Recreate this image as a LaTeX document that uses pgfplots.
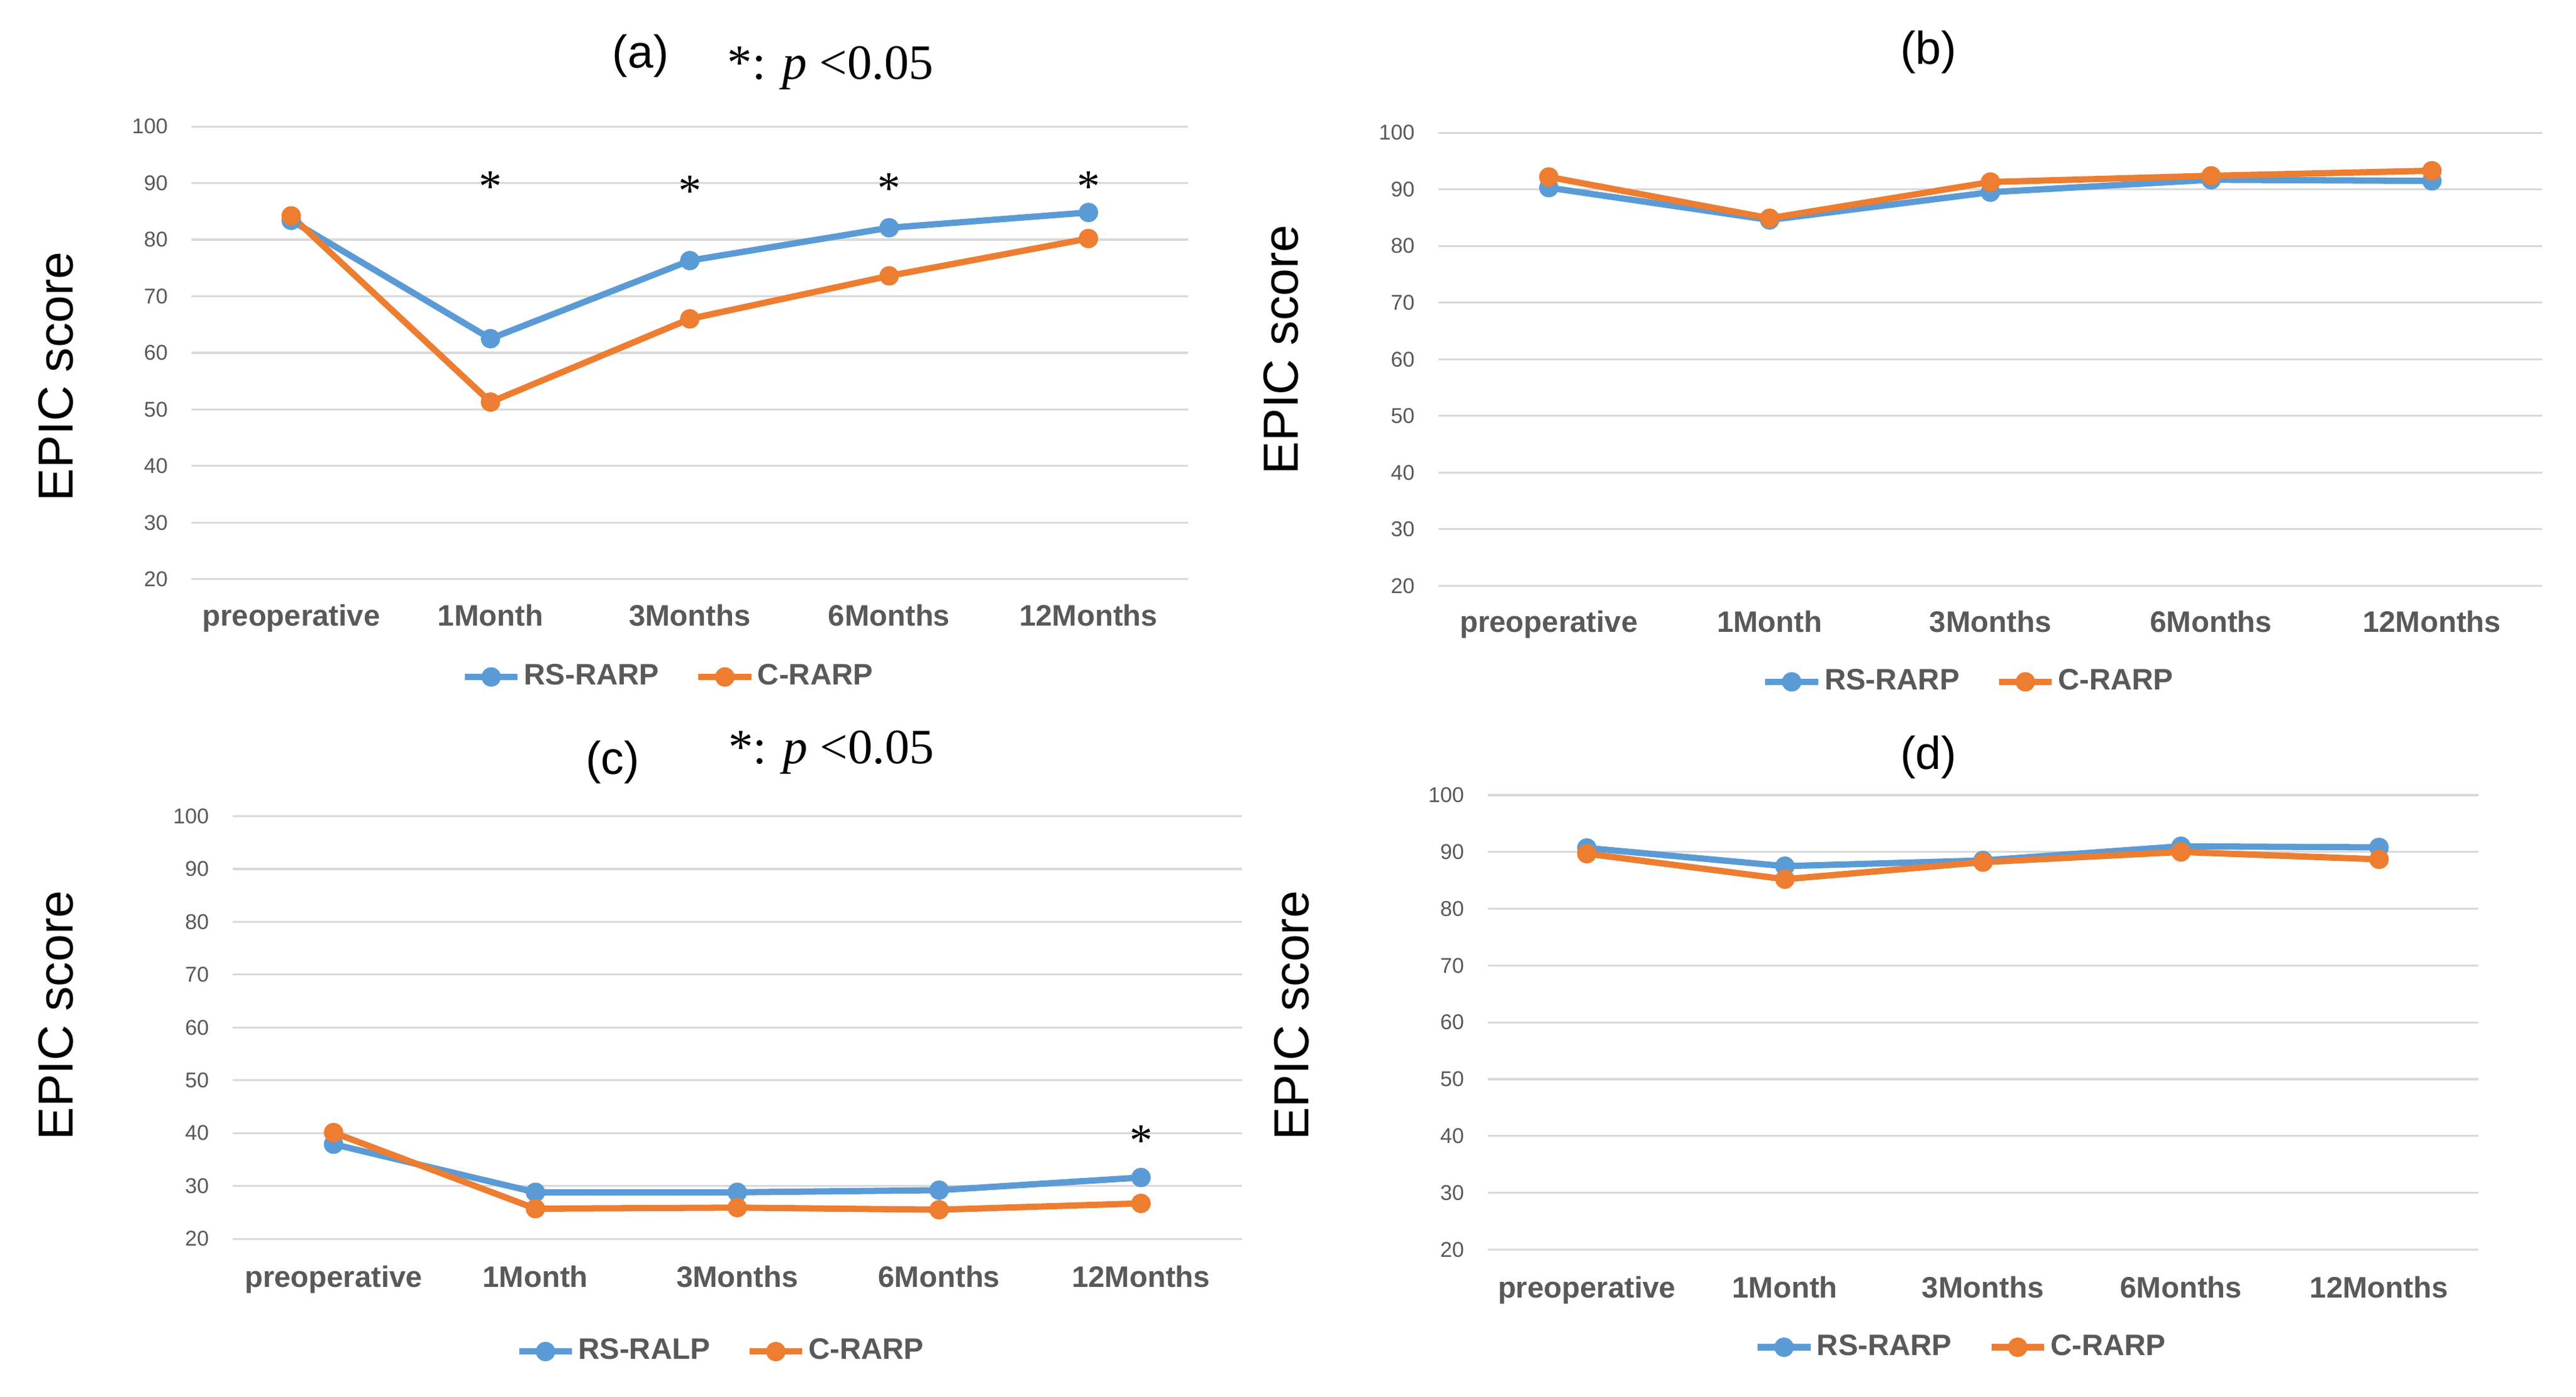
\documentclass[border=0pt]{standalone}
\usepackage{pgfplots}
\pgfplotsset{compat=1.18}
\usepackage{fontspec}
\setmainfont{Liberation Sans}
\newfontfamily\timesf{Liberation Serif}

\definecolor{blueS}{RGB}{91,155,213}
\definecolor{orangeS}{RGB}{237,125,49}
\definecolor{txtgray}{RGB}{89,89,89}
\definecolor{gridgray}{RGB}{217,217,217}

\pgfplotsset{
  epic/.style={
    scale only axis, clip=false,
    xmin=-0.5, xmax=4.5, ymin=20, ymax=100,
    xtick={0,...,4},
    xticklabels={preoperative,1Month,3Months,6Months,12Months},
    ytick={20,30,...,100},
    ymajorgrids, grid style={draw=gridgray, line width=0.6bp},
    axis line style={draw=none}, tick style={draw=none},
    /pgf/number format/assume math mode=true,
    xticklabel style={font=\fontsize{9}{10}\selectfont\bfseries, text=txtgray, anchor=base},
    yticklabel style={font=\fontsize{6.5}{8}\selectfont, text=txtgray, anchor=east, inner sep=0pt, xshift=-7bp},
    ylabel={EPIC score},
    ylabel style={font=\fontsize{15}{18}\selectfont, anchor=center},
    legend columns=2,
    legend style={draw=none, fill=none, anchor=center,
      font=\fontsize{9}{10}\selectfont\bfseries,
      nodes={inner sep=1bp},
      /tikz/every even column/.append style={column sep=10bp}},
    legend image code/.code={\draw[mark repeat=2,mark phase=2,#1]
      plot coordinates {(0bp,0bp) (8bp,0bp) (16bp,0bp)};},
  },
  rs/.style={color=blueS, line width=1.9bp, line join=round, mark=*, mark size=2bp, mark options={solid}},
  cr/.style={color=orangeS, line width=1.9bp, line join=round, mark=*, mark size=2bp, mark options={solid}},
}
\tikzset{
  sigstar/.style={font=\timesf\fontsize{14}{14}\selectfont, anchor=center},
  ttl/.style={font=\fontsize{14}{16}\selectfont, anchor=base},
  pval/.style={font=\timesf\fontsize{15}{17}\selectfont, anchor=base},
}

\begin{document}
\begin{tikzpicture}
\useasboundingbox (0,0) rectangle (780bp,423bp);

% (a)
\begin{axis}[epic, at={(58bp,247.6bp)}, anchor=south west,
    width=301.75bp, height=137.1bp,
    xticklabel style={yshift=-14.1bp},
    ylabel style={at={(axis description cs:-0.136,0.448)}},
    legend style={at={(axis description cs:0.479,-0.216)}}]
\addplot[rs] coordinates {(0,83.4) (1,62.5) (2,76.3) (3,82.1) (4,84.8)};
\addlegendentry{\textcolor{txtgray}{RS-RARP}}
\addplot[cr] coordinates {(0,84.2) (1,51.3) (2,66.0) (3,73.6) (4,80.2)};
\addlegendentry{\textcolor{txtgray}{C-RARP}}
\node[sigstar] at (axis cs:1,89.4) {*};
\node[sigstar] at (axis cs:2,88.6) {*};
\node[sigstar] at (axis cs:3,89.0) {*};
\node[sigstar] at (axis cs:4,89.4) {*};
\node[ttl] at (axis description cs:0.4507,1.1298) {(a)};
\node[pval] at (axis description cs:0.6413,1.105) {*: \textit{p} <0.05};
\end{axis}

% (b)
\begin{axis}[epic, at={(435.55bp,245.6bp)}, anchor=south west,
    width=334.25bp, height=137.2bp,
    xticklabel style={yshift=-14.1bp},
    ylabel style={at={(axis description cs:-0.1427,0.5215)}},
    legend style={at={(axis description cs:0.481,-0.212)}}]
\addplot[rs] coordinates {(0,90.3) (1,84.6) (2,89.5) (3,91.7) (4,91.5)};
\addlegendentry{\textcolor{txtgray}{RS-RARP}}
\addplot[cr] coordinates {(0,92.2) (1,84.9) (2,91.3) (3,92.4) (4,93.3)};
\addlegendentry{\textcolor{txtgray}{C-RARP}}
\node[ttl] at (axis description cs:0.4441,1.152) {(b)};
\end{axis}

% (c)
\begin{axis}[epic, at={(70.45bp,47.85bp)}, anchor=south west,
    width=305.6bp, height=128bp,
    xticklabel style={yshift=-14.7bp},
    ylabel style={at={(axis description cs:-0.1749,0.5285)}},
    legend style={at={(axis description cs:0.4844,-0.2668)}}]
\addplot[rs] coordinates {(0,37.9) (1,28.8) (2,28.8) (3,29.2) (4,31.6)};
\addlegendentry{\textcolor{txtgray}{RS-RALP}}
\addplot[cr] coordinates {(0,40.1) (1,25.7) (2,25.9) (3,25.5) (4,26.7)};
\addlegendentry{\textcolor{txtgray}{C-RARP}}
\node[sigstar] at (axis cs:4,38.5) {*};
\node[ttl] at (axis description cs:0.3764,1.0988) {(c)};
\node[pval] at (axis description cs:0.5932,1.1238) {*: \textit{p} <0.05};
\end{axis}

% (d)
\begin{axis}[epic, at={(450.5bp,44.6bp)}, anchor=south west,
    width=299.85bp, height=137.6bp,
    xticklabel style={yshift=-14.6bp},
    ylabel style={at={(axis description cs:-0.1978,0.515)}},
    legend style={at={(axis description cs:0.4786,-0.2151)}}]
\addplot[rs] coordinates {(0,90.7) (1,87.5) (2,88.5) (3,91.0) (4,90.8)};
\addlegendentry{\textcolor{txtgray}{RS-RARP}}
\addplot[cr] coordinates {(0,89.7) (1,85.2) (2,88.2) (3,90.0) (4,88.7)};
\addlegendentry{\textcolor{txtgray}{C-RARP}}
\node[ttl] at (axis description cs:0.4452,1.0567) {(d)};
\end{axis}
\end{tikzpicture}
\end{document}
